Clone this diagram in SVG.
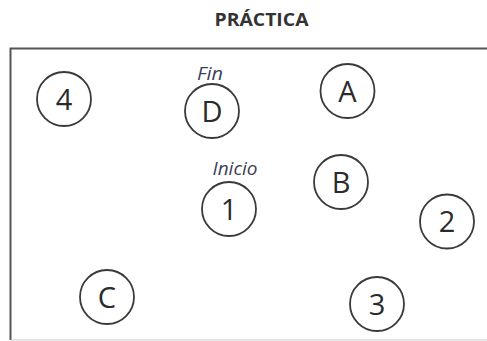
<svg xmlns="http://www.w3.org/2000/svg" width="487" height="341" viewBox="0 0 487 341">
<style>
.n circle{fill:none;stroke:#3a3a3a;stroke-width:1.8}
.n text{font-family:"Open Sans","Liberation Sans",sans-serif;font-size:29px;font-weight:500;fill:#2b2b2b;text-anchor:middle}
.n text.lbl{font-family:"Open Sans","Liberation Sans",sans-serif;font-size:18px;font-weight:400;font-style:italic;fill:#3c3f55;text-anchor:middle}
.title{font-family:"Open Sans","Liberation Sans",sans-serif;font-size:17px;font-weight:bold;fill:#333;text-anchor:middle}
</style>
<rect width="487" height="341" fill="#fff"/>
<text class="title" x="261.5" y="26" textLength="94" lengthAdjust="spacingAndGlyphs">PRÁCTICA</text>
<g id="frame">
<path d="M10.5 340 V48.5 H487" fill="none" stroke="#555" stroke-width="2"/>
<path d="M11 340 H487" fill="none" stroke="#ccc" stroke-width="1.2"/>
</g>
<g id="connectors"></g>
<g id="n4" class="n"><circle cx="64" cy="99" r="27"/><text x="64" y="109.5">4</text></g>
<g id="nD" class="n"><circle cx="212" cy="111" r="27"/><text x="212" y="121.5">D</text><text class="lbl" x="210" y="80" textLength="26" lengthAdjust="spacingAndGlyphs">Fin</text></g>
<g id="nA" class="n"><circle cx="347.5" cy="91" r="27"/><text x="347.5" y="101.5">A</text></g>
<g id="nB" class="n"><circle cx="341" cy="182" r="27"/><text x="341" y="192.5">B</text></g>
<g id="n1" class="n"><circle cx="229" cy="209" r="27"/><text x="229" y="219.5">1</text><text class="lbl" x="235" y="175" textLength="45" lengthAdjust="spacingAndGlyphs">Inicio</text></g>
<g id="n2" class="n"><circle cx="447" cy="221.5" r="27"/><text x="447" y="232">2</text></g>
<g id="nC" class="n"><circle cx="107" cy="297" r="27"/><text x="107" y="307.5">C</text></g>
<g id="n3" class="n"><circle cx="377" cy="304" r="27"/><text x="377" y="314.5">3</text></g>
</svg>
